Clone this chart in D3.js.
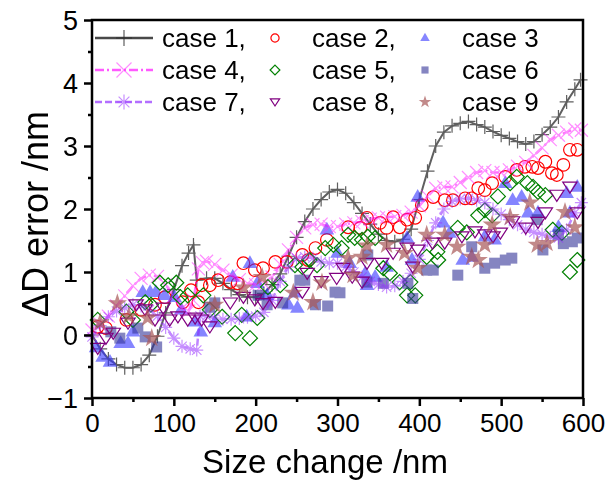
<!DOCTYPE html>
<html>
<head>
<meta charset="utf-8">
<script src="https://cdn.jsdelivr.net/npm/d3@7"></script>
<style>
  body { margin: 0; background: #fff; }
  text { font-family: Arial, "Liberation Sans", sans-serif; fill: #000; }
</style>
</head>
<body>
<div id="chart"></div>
<script>
let svgWidth = 613;
let svgHeight = 480;

// line series (x in nm, y in nm error)
let case1X = [0,10,20,30,40,50,60,70,80,90,100,110,118,124,128,140,150,160,170,180,190,200,210,220,230,240,250,260,270,280,290,300,310,320,330,340,350,360,370,380,390,400,410,420,430,440,450,460,470,480,490,500,510,520,530,540,550,560,570,580,590,597];
let case1Y = [0,-0.22,-0.38,-0.47,-0.52,-0.52,-0.47,-0.32,-0.02,0.35,0.72,1.1,1.3,1.43,0.87,0.9,0.9,0.82,0.72,0.64,0.6,0.6,0.66,0.8,0.97,1.25,1.55,1.8,2.0,2.15,2.27,2.31,2.25,2.1,1.93,1.76,1.6,1.5,1.48,1.52,1.68,2.15,2.6,3.0,3.22,3.32,3.36,3.39,3.34,3.3,3.23,3.17,3.12,3.07,3.03,3.07,3.18,3.3,3.46,3.7,3.9,4.05];

let case4X = [0,10,20,30,40,50,60,70,80,90,100,110,118,124,130,135,140,150,160,170,180,190,200,210,220,230,240,250,260,270,280,290,300,310,320,330,340,350,360,370,380,390,400,410,420,430,440,450,460,470,480,490,500,510,520,530,540,550,560,570,580,590,598];
let case4Y = [0.08,0.17,0.3,0.46,0.62,0.78,0.9,0.95,0.93,0.8,0.62,0.42,0.38,0.55,1.05,1.15,1.17,1.12,1.03,0.95,0.88,0.82,0.8,0.82,0.92,1.12,1.35,1.55,1.7,1.75,1.76,1.72,1.72,1.76,1.78,1.8,1.84,1.86,1.87,1.88,1.9,1.95,2.05,2.2,2.33,2.35,2.35,2.42,2.5,2.58,2.61,2.58,2.58,2.62,2.68,2.74,2.85,2.97,3.1,3.17,3.22,3.27,3.25];

let case7X = [0,10,20,30,40,50,60,70,80,90,100,110,120,128,132,140,150,160,170,180,190,200,210,220,230,240,250,260,270,280,290,300,310,320,330,340,350,360,370,380,390,400,410,420,430,440,450,460,470,480,490,500,510,520,530,540,550,560,570,580,590,598];
let case7Y = [-0.03,0.15,0.29,0.38,0.43,0.48,0.46,0.4,0.3,0.12,-0.05,-0.18,-0.22,-0.24,0.3,0.3,0.27,0.25,0.25,0.26,0.28,0.3,0.36,0.55,0.85,1.08,1.22,1.24,1.22,1.16,1.14,1.14,1.08,1.0,0.92,0.85,0.8,0.76,0.78,0.85,0.98,1.2,1.5,1.78,2.0,2.12,2.16,2.17,2.14,2.1,2.0,1.92,1.83,1.75,1.68,1.63,1.6,1.55,1.54,1.67,1.94,2.1];

// scatter series as [x, y]
let case2 = [[7,0.13],[17,0.11],[42,0.24],[60,0.4],[77,0.48],[89,0.6],[111,0.52],[121,0.71],[130,0.52],[134,0.79],[144,0.79],[154,0.87],[169,0.84],[178,0.82],[185,1.14],[199,1.03],[209,1.06],[224,1.16],[238,1.16],[257,1.27],[264,1.19],[273,1.38],[287,1.51],[313,1.71],[328,1.7],[336,1.86],[352,1.78],[360,1.7],[368,1.87],[376,1.71],[385,1.83],[395,1.86],[403,2.06],[417,2.19],[431,2.14],[441,2.14],[456,2.17],[464,2.17],[472,2.33],[480,2.3],[489,2.41],[505,2.51],[519,2.62],[529,2.67],[538,2.67],[545,2.65],[554,2.75],[562,2.57],[568,2.54],[576,2.7],[584,2.94],[593,2.94]];
let case3 = [[5,-0.2],[13,-0.35],[22,-0.43],[35,-0.13],[44,-0.13],[50,0.05],[62,0.68],[71,0.68],[78,0.68],[89,0.63],[101,0.6],[109,0.4],[126,0.21],[133,0.05],[150,0.2],[172,0.92],[189,0.29],[193,1.14],[202,0.82],[214,0.63],[240,0.48],[248,0.67],[251,0.43],[287,1.67],[300,1.3],[315,1.14],[334,0.98],[336,0.79],[346,0.92],[360,1.08],[385,1.54],[391,1.19],[398,2.19],[429,1.78],[437,1.62],[453,1.19],[464,1.24],[480,1.56],[492,1.51],[505,2.41],[514,2.14],[525,2.19],[533,1.94],[545,1.94],[570,1.71],[580,2.25],[584,1.94],[593,2.35]];
let case5 = [[7,0.24],[42,0.37],[50,0.24],[65,0.52],[72,0.48],[83,0.83],[93,0.79],[103,0.83],[108,0.6],[117,0.63],[136,0.63],[144,0.4],[159,0.29],[175,0.03],[183,0.32],[193,-0.05],[202,0.27],[215,0.76],[230,0.79],[248,1.11],[257,1.08],[266,1.19],[275,1.11],[285,1.38],[295,1.43],[305,1.38],[313,1.59],[321,1.54],[330,1.51],[337,1.56],[346,1.54],[356,1.06],[364,0.98],[376,0.84],[385,0.63],[389,0.84],[395,0.63],[409,1.24],[422,1.32],[423,1.19],[447,1.7],[458,1.63],[472,1.9],[480,1.98],[489,1.9],[496,2.2],[511,2.41],[519,2.51],[532,2.41],[539,2.35],[545,2.27],[554,2.22],[563,1.67],[574,1.62],[584,1.0],[593,1.19]];
let case6 = [[23,0.05],[34,-0.05],[56,0.11],[65,-0.03],[79,-0.19],[144,0.44],[150,0.51],[203,0.63],[214,0.48],[233,0.51],[254,0.87],[260,0.87],[273,0.48],[288,0.46],[297,0.68],[303,0.67],[336,0.84],[337,1.27],[356,0.82],[386,0.82],[392,0.58],[409,1.03],[417,1.03],[447,0.95],[464,1.4],[480,1.06],[492,1.14],[505,1.19],[513,1.22],[544,1.83],[551,1.35],[570,1.59],[576,1.45],[587,1.48],[593,1.54]];
let case8 = [[7,-0.21],[17,-0.05],[26,0.03],[44,0.19],[54,0.48],[65,0.4],[77,0.24],[87,0.43],[95,0.24],[105,0.29],[117,0.24],[126,0.27],[134,0.24],[144,0.13],[169,0.51],[185,0.6],[199,0.56],[209,0.5],[224,0.52],[257,0.68],[263,0.98],[280,0.85],[299,0.9],[307,1.06],[318,0.92],[330,0.84],[336,1.14],[354,1.14],[368,1.3],[385,1.38],[392,1.08],[398,1.35],[416,1.46],[431,1.46],[452,1.56],[468,1.64],[480,1.59],[490,1.56],[499,1.62],[514,1.8],[530,1.7],[545,1.79],[554,1.94],[568,2.22],[584,2.35],[593,1.94]];
let case9 = [[10,0.2],[31,0.5],[45,0.3],[68,0.27],[73,-0.05],[150,0.48],[185,0.75],[208,0.92],[246,0.67],[270,0.52],[281,0.83],[313,1.22],[319,0.95],[330,1.24],[336,1.42],[360,1.43],[382,1.3],[398,1.06],[409,1.59],[431,1.59],[446,1.4],[464,1.24],[472,1.19],[480,1.43],[489,1.75],[511,1.87],[535,2.1],[544,1.43],[556,1.46],[578,1.95],[590,1.71]];

let xTicks = [0,100,200,300,400,500,600];
let xMinor = [50,150,250,350,450,550];
let yTicks = [-1,0,1,2,3,4,5];
let yMinor = [-0.5,0.5,1.5,2.5,3.5,4.5];

let legendLabels = ["case 1,","case 2,","case 3","case 4,","case 5,","case 6","case 7,","case 8,","case 9"];

let svg = d3.select("#chart")
  .append("svg")
    .attr("width", svgWidth)
    .attr("height", svgHeight);

let x = d3.scaleLinear().domain([0,600]).range([92,583]);
let y = d3.scaleLinear().domain([-1,5]).range([398,20]);

// marker shapes, drawn around 0,0
function markerPath(kind, s){
  if(kind=="plus") return "M"+(-s)+",0H"+s+"M0,"+(-s)+"V"+s;
  if(kind=="times") return "M"+(-s)+","+(-s)+"L"+s+","+s+"M"+(-s)+","+s+"L"+s+","+(-s);
  if(kind=="aster"){
    let d = s*0.72;
    return "M"+(-s)+",0H"+s+"M0,"+(-s)+"V"+s+"M"+(-d)+","+(-d)+"L"+d+","+d+"M"+(-d)+","+d+"L"+d+","+(-d);
  }
  if(kind=="circle") return d3.symbol(d3.symbolCircle, Math.PI*s*s)();
  if(kind=="triUp") return "M0,"+(-s*1.1)+"L"+s+","+(s*0.65)+"L"+(-s)+","+(s*0.65)+"Z";
  if(kind=="triDown") return "M0,"+(s*0.95)+"L"+(s*1.1)+","+(-s*0.75)+"L"+(-s*1.1)+","+(-s*0.75)+"Z";
  if(kind=="diamond") return "M0,"+(-s)+"L"+s+",0L0,"+s+"L"+(-s)+",0Z";
  if(kind=="square") return "M"+(-s)+","+(-s)+"H"+s+"V"+s+"H"+(-s)+"Z";
  if(kind=="star") return d3.symbol(d3.symbolStar, s*s*3.2)();
}

let styles = [
  {kind:"plus", size:7, stroke:"#2a2a2a", fill:"none", op:0.75, line:"#2a2a2a", lw:2, dash:null},
  {kind:"circle", size:6.3, stroke:"#ff0000", fill:"none", op:1},
  {kind:"triUp", size:7.3, stroke:"none", fill:"#3535ff", op:0.6},
  {kind:"times", size:6.5, stroke:"#ff33ff", fill:"none", op:0.55, line:"#ff00ff", lw:2.5, dash:"9,3,2,3"},
  {kind:"diamond", size:7.5, stroke:"#008000", fill:"none", op:1},
  {kind:"square", size:5.5, stroke:"none", fill:"#343498", op:0.6},
  {kind:"aster", size:6.5, stroke:"#9933ff", fill:"none", op:0.55, line:"#8a22ff", lw:2.5, dash:"7,3"},
  {kind:"triDown", size:6.5, stroke:"#800080", fill:"none", op:1},
  {kind:"star", size:6, stroke:"none", fill:"#a85858", op:0.7}
];

let series = [
  d3.zip(case1X, case1Y), case2, case3,
  d3.zip(case4X, case4Y), case5, case6,
  d3.zip(case7X, case7Y), case8, case9
];

let plot = svg.append("g");
let line = d3.line().x(d => x(d[0])).y(d => y(d[1]));

series.forEach(function(data, i){
  let st = styles[i];
  let g = plot.append("g").attr("opacity", st.op);
  if(st.line){
    g.append("path")
      .attr("d", line(data))
      .attr("fill","none")
      .attr("stroke", st.line)
      .attr("stroke-width", st.lw)
      .attr("stroke-dasharray", st.dash);
  }
  g.selectAll(".m").data(data).enter()
    .append("path")
      .attr("class","m")
      .attr("d", markerPath(st.kind, st.size))
      .attr("transform", d => "translate(" + x(d[0]) + "," + y(d[1]) + ")")
      .attr("fill", st.fill)
      .attr("stroke", st.stroke)
      .attr("stroke-width", 1.2);
});

// axes
let xAxis = svg.append("g").attr("transform","translate(0,398)")
  .call(d3.axisBottom(x).tickValues(xTicks).tickSize(8).tickPadding(10).tickFormat(d3.format("d")));
let xAxisMinor = svg.append("g").attr("transform","translate(0,398)")
  .call(d3.axisBottom(x).tickValues(xMinor).tickSize(4).tickFormat(""));
let yAxis = svg.append("g").attr("transform","translate(92,0)")
  .call(d3.axisLeft(y).tickValues(yTicks).tickSize(8).tickPadding(6).tickFormat(d3.format("d")));
let yAxisMinor = svg.append("g").attr("transform","translate(92,0)")
  .call(d3.axisLeft(y).tickValues(yMinor).tickSize(4).tickFormat(""));

[xAxis, xAxisMinor, yAxis, yAxisMinor].forEach(function(a){
  a.select(".domain").remove();
  a.selectAll("line").attr("stroke","#000").attr("stroke-width",2.5);
  a.selectAll("text").style("font-size","27px").attr("font-family", null).attr("fill","#000");
});
xAxis.selectAll("text").style("font-size","26px").attr("dy","0.62em");
yAxis.selectAll("text").attr("dy","0.36em");

svg.append("rect")
  .attr("x", 92).attr("y", 20)
  .attr("width", 583-92).attr("height", 398-20)
  .attr("fill","none")
  .attr("stroke","#000")
  .attr("stroke-width",2.5);

// titles
svg.append("text")
  .attr("x", 325).attr("y", 473)
  .attr("text-anchor","middle")
  .style("font-size","33px")
  .text("Size change /nm");

svg.append("text")
  .attr("transform","translate(48,214) rotate(-90)")
  .attr("text-anchor","middle")
  .style("font-size","36px")
  .text("\u0394D error /nm");

// legend
let legCols = [124, 275, 425];
let legText = [162, 312, 462];
let legRows = [38, 70, 102];
let legend = svg.append("g");

legendLabels.forEach(function(lab, i){
  let st = styles[i];
  let col = i % 3;
  let row = Math.floor(i / 3);
  let cy = legRows[row];
  let g = legend.append("g");
  if(st.line){
    g.append("line")
      .attr("x1", 95).attr("x2", 153)
      .attr("y1", cy).attr("y2", cy)
      .attr("stroke", st.line)
      .attr("stroke-width", 2.5)
      .attr("stroke-dasharray", st.dash)
      .attr("opacity", st.op + 0.1);
  }
  g.append("path")
    .attr("d", markerPath(st.kind, st.line ? st.size + 1 : st.size * 0.65))
    .attr("transform","translate(" + legCols[col] + "," + cy + ")")
    .attr("fill", st.fill)
    .attr("stroke", st.stroke)
    .attr("stroke-width", 1.2)
    .attr("opacity", st.op);
  g.append("text")
    .attr("x", legText[col]).attr("y", cy + 9)
    .style("font-size","26px")
    .text(lab);
});
</script>
</body>
</html>
